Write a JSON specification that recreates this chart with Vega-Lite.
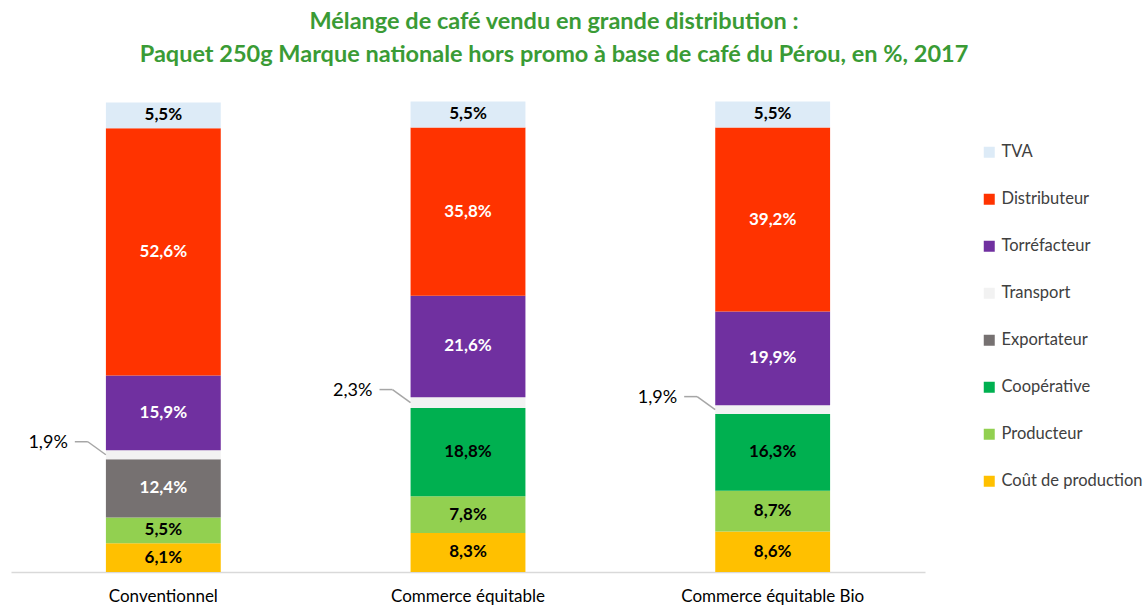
{
  "$schema": "https://vega.github.io/schema/vega-lite/v6.json",
  "autosize": "none",
  "width": 914,
  "height": 470,
  "padding": {"left": 11, "top": 102, "right": 222, "bottom": 33},
  "background": "white",
  "title": {
    "text": ["Mélange de café vendu en grande distribution :", "Paquet 250g Marque nationale hors promo à base de café du Pérou, en %, 2017"],
    "font": "Lato",
    "fontSize": 23.5,
    "fontWeight": "bold",
    "color": "#3A9B35",
    "lineHeight": 33,
    "anchor": "middle",
    "frame": "group",
    "dx": 86,
    "offset": 35
  },
  "data": {
    "values": [
      {"cat": "Conventionnel", "seg": "Coût de production", "value": 6.1},
      {"cat": "Conventionnel", "seg": "Producteur", "value": 5.5},
      {"cat": "Conventionnel", "seg": "Exportateur", "value": 12.4},
      {"cat": "Conventionnel", "seg": "Transport", "value": 1.9},
      {"cat": "Conventionnel", "seg": "Torréfacteur", "value": 15.9},
      {"cat": "Conventionnel", "seg": "Distributeur", "value": 52.6},
      {"cat": "Conventionnel", "seg": "TVA", "value": 5.5},
      {"cat": "Commerce équitable", "seg": "Coût de production", "value": 8.3},
      {"cat": "Commerce équitable", "seg": "Producteur", "value": 7.8},
      {"cat": "Commerce équitable", "seg": "Coopérative", "value": 18.8},
      {"cat": "Commerce équitable", "seg": "Transport", "value": 2.3},
      {"cat": "Commerce équitable", "seg": "Torréfacteur", "value": 21.6},
      {"cat": "Commerce équitable", "seg": "Distributeur", "value": 35.8},
      {"cat": "Commerce équitable", "seg": "TVA", "value": 5.5},
      {"cat": "Commerce équitable Bio", "seg": "Coût de production", "value": 8.6},
      {"cat": "Commerce équitable Bio", "seg": "Producteur", "value": 8.7},
      {"cat": "Commerce équitable Bio", "seg": "Coopérative", "value": 16.3},
      {"cat": "Commerce équitable Bio", "seg": "Transport", "value": 1.9},
      {"cat": "Commerce équitable Bio", "seg": "Torréfacteur", "value": 19.9},
      {"cat": "Commerce équitable Bio", "seg": "Distributeur", "value": 39.2},
      {"cat": "Commerce équitable Bio", "seg": "TVA", "value": 5.5}
    ]
  },
  "transform": [
    {"calculate": "indexof(['Coût de production','Producteur','Coopérative','Exportateur','Transport','Torréfacteur','Distributeur','TVA'], datum.seg)", "as": "ord"},
    {"stack": "value", "groupby": ["cat"], "sort": [{"field": "ord", "order": "ascending"}], "as": ["v0", "v1"]},
    {"calculate": "(datum.v0 + datum.v1) / 2", "as": "mid"},
    {"calculate": "replace(format(datum.value, '.1f'), '.', ',') + '%'", "as": "label"}
  ],
  "encoding": {
    "x": {
      "field": "cat",
      "type": "nominal",
      "sort": ["Conventionnel", "Commerce équitable", "Commerce équitable Bio"],
      "scale": {"paddingInner": 0.623, "paddingOuter": 0.3115},
      "axis": {
        "title": null,
        "labelAngle": 0,
        "labelFont": "Lato",
        "labelFontSize": 17,
        "labelColor": "#000000",
        "labelPadding": 16,
        "labelLimit": 400,
        "ticks": false,
        "domainColor": "#D9D9D9",
        "domainWidth": 1.5,
        "grid": false
      }
    }
  },
  "layer": [
    {
      "mark": {"type": "bar"},
      "encoding": {
        "y": {"field": "v0", "type": "quantitative", "scale": {"domain": [0, 100], "nice": false}, "axis": null},
        "y2": {"field": "v1"},
        "color": {
          "field": "seg",
          "type": "nominal",
          "scale": {
            "domain": ["TVA", "Distributeur", "Torréfacteur", "Transport", "Exportateur", "Coopérative", "Producteur", "Coût de production"],
            "range": ["#DDEBF7", "#FF3300", "#7030A0", "#F2F2F2", "#767171", "#00B050", "#92D050", "#FFC000"]
          },
          "legend": {
            "title": null,
            "orient": "none",
            "legendX": 970,
            "legendY": 42,
            "symbolType": "square",
            "symbolSize": 121,
            "symbolStrokeWidth": 0,
            "labelFont": "Lato",
            "labelFontSize": 16.5,
            "labelColor": "#404040",
            "labelOffset": 4,
            "labelLimit": 400,
            "rowPadding": 30,
            "padding": 0
          }
        }
      }
    },
    {
      "transform": [{"filter": "datum.seg !== 'Transport'"}],
      "mark": {"type": "text", "font": "Lato", "fontSize": 17, "fontWeight": "bold", "baseline": "middle", "align": "center"},
      "encoding": {
        "y": {"field": "mid", "type": "quantitative"},
        "text": {"field": "label"},
        "color": {
          "condition": {"test": "indexof(['Distributeur','Torréfacteur','Exportateur'], datum.seg) >= 0", "value": "#FFFFFF"},
          "value": "#000000"
        }
      }
    },
    {
      "transform": [{"filter": "datum.seg === 'Transport'"}],
      "mark": {"type": "text", "font": "Lato", "fontSize": 18, "baseline": "middle", "align": "right", "xOffset": -95.5, "yOffset": -12, "color": "#000000"},
      "encoding": {
        "y": {"field": "mid", "type": "quantitative"},
        "text": {"field": "label"}
      }
    },
    {
      "transform": [{"filter": "datum.seg === 'Transport'"}],
      "mark": {"type": "rule", "color": "#A6A6A6", "strokeWidth": 1.5, "xOffset": -88.5, "x2Offset": -75.5, "yOffset": -13, "y2Offset": -13},
      "encoding": {
        "x2": {"field": "cat"},
        "y": {"field": "mid", "type": "quantitative"},
        "y2": {"field": "mid"}
      }
    },
    {
      "transform": [{"filter": "datum.seg === 'Transport'"}],
      "mark": {"type": "rule", "color": "#A6A6A6", "strokeWidth": 1.5, "xOffset": -75.5, "x2Offset": -57.5, "yOffset": -13, "y2Offset": 0},
      "encoding": {
        "x2": {"field": "cat"},
        "y": {"field": "mid", "type": "quantitative"},
        "y2": {"field": "mid"}
      }
    }
  ],
  "config": {
    "view": {"stroke": null}
  }
}
